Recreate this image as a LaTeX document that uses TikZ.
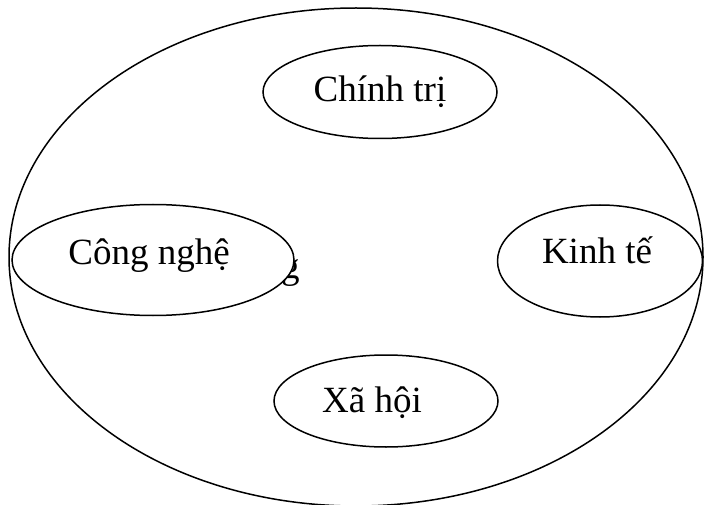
\documentclass[tikz,border=0pt]{standalone}
\usepackage{fontspec}
\setmainfont{Liberation Serif}
\usetikzlibrary{shapes.geometric}
\begin{document}
\begin{tikzpicture}[x=1pt,y=-1pt,
  oval/.style={ellipse,draw=black,line width=1.5pt,fill=white,inner sep=0pt},
  lbl/.style={anchor=base,inner sep=0pt,font=\fontsize{37}{44}\selectfont}]
\useasboundingbox (0,0) rectangle (704,505);
\node[oval,fill=none,minimum width=694pt,minimum height=498pt] (world) at (356,257) {};
\node[lbl,anchor=base west] (gpart) at (281,278) {g};
\node[oval,minimum width=282pt,minimum height=111pt] (cn) at (153,260) {};
\node[oval,minimum width=234pt,minimum height=93pt] (ct) at (380,92) {};
\node[oval,minimum width=205pt,minimum height=112pt] (kt) at (600,261) {};
\node[oval,minimum width=224pt,minimum height=92pt] (xh) at (386,401) {};
\node[lbl] (cnt) at (149,265) {Công nghệ};
\node[lbl] (ctt) at (380,102) {Chính trị};
\node[lbl] (ktt) at (597,263) {Kinh tế};
\node[lbl] (xht) at (372,412) {Xã hội};
\end{tikzpicture}
\end{document}
